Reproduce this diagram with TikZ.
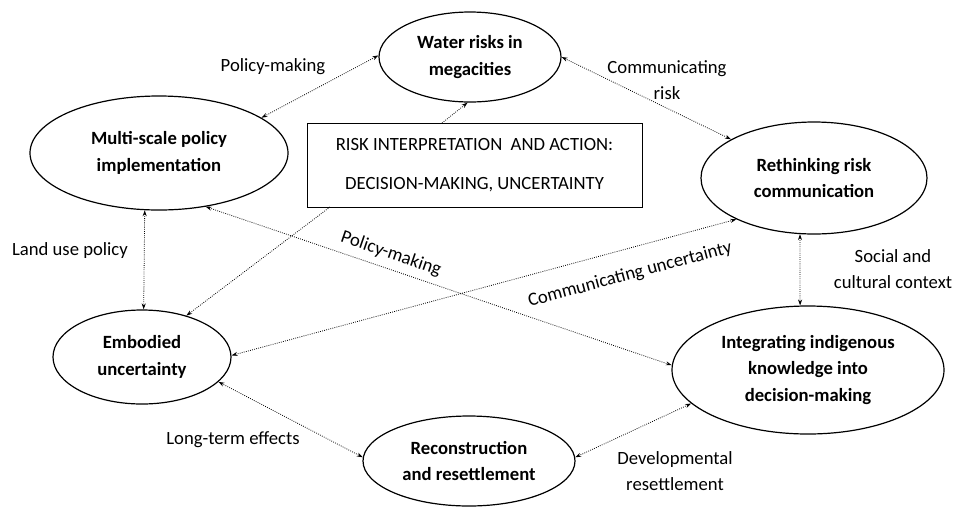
\documentclass[tikz,border=0pt]{standalone}
\usepackage{fontspec}
\setmainfont{Carlito}
\usetikzlibrary{shapes.geometric,arrows.meta}
\begin{document}
\begin{tikzpicture}[x=0.75pt,y=-0.75pt,
  every node/.style={font=\fontsize{14}{20}\selectfont},
  oval/.style={ellipse,draw,line width=0.9pt,inner sep=0pt,align=center,font=\fontsize{14}{20}\selectfont\bfseries},
  link/.style={densely dotted,line width=0.6pt,{Stealth[length=4.5pt,width=3pt]}-{Stealth[length=4.5pt,width=3pt]}},
  onelink/.style={densely dotted,line width=0.6pt,-{Stealth[length=4.5pt,width=3pt]}},
  lab/.style={align=center,inner sep=0pt}]
\useasboundingbox (0,0) rectangle (953,515);
% ellipses
\node[oval,minimum width={182*0.75pt},minimum height={90*0.75pt}] (water) at (470,57) {Water risks in\\megacities};
\node[oval,minimum width={258*0.75pt},minimum height={114*0.75pt}] (ms) at (159,153) {Multi-scale policy\\implementation};
\node[oval,minimum width={226*0.75pt},minimum height={112*0.75pt}] (reth) at (814,178) {Rethinking risk\\communication};
\node[oval,minimum width={178*0.75pt},minimum height={94*0.75pt}] (emb) at (142,357) {Embodied\\uncertainty};
\node[oval,minimum width={272*0.75pt},minimum height={128*0.75pt}] (int) at (808,370) {Integrating indigenous\\knowledge into\\decision-making};
\node[oval,minimum width={212*0.75pt},minimum height={90*0.75pt}] (rec) at (469,461) {Reconstruction\\and resettlement};
% box
\node[draw,line width=0.7pt,minimum width={335*0.75pt},minimum height={84*0.75pt},align=center,inner sep=0pt,font=\fontsize{14}{29}\selectfont] (box) at (474.5,165) {RISK INTERPRETATION~~AND ACTION:\\DECISION-MAKING, UNCERTAINTY};
\coordinate (boxtop) at (442,123);
\coordinate (boxbot) at (330,207);
% connectors
\draw[link] (ms.19) -- (water.179);
\draw[link] (water.0) -- (reth.155);
\draw[onelink] (boxtop) -- (water.267);
\draw[onelink] (boxbot) -- (emb.43);
\draw[link] (ms.256) -- (emb.88);
\draw[link] (ms.311) -- (int.178);
\draw[link] (reth.208) -- (emb.1);
\draw[link] (reth.256) -- (int.97);
\draw[link] (emb.342) -- (rec.178);
\draw[link] (rec.2) -- (int.196);
% labels
\node[lab] (l1) at (273,67) {Policy-making};
\node[lab] (l2) at (667,80) {Communicating\\risk};
\node[lab] (l3) at (70,251) {Land use policy};
\node[lab,rotate=-19] (l4) at (391,254) {Policy-making};
\node[lab,rotate=15] (l5) at (630,275) {Communicating uncertainty};
\node[lab] (l6) at (893,269) {Social and\\cultural context};
\node[lab] (l7) at (233,440) {Long-term effects};
\node[lab] (l8) at (675,471) {Developmental\\resettlement};
\end{tikzpicture}
\end{document}
